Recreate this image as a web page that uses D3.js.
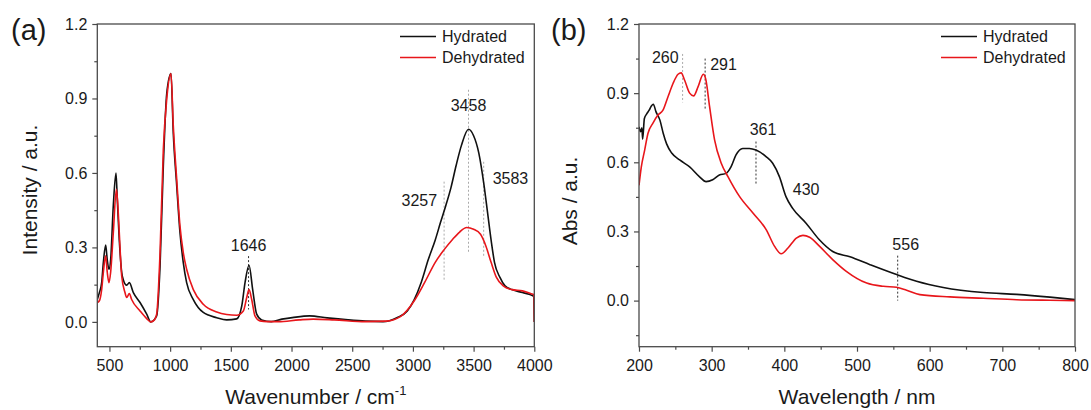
<!DOCTYPE html>
<html><head><meta charset="utf-8">
<script src="https://cdn.jsdelivr.net/npm/d3@7"></script>
<style>
body{margin:0;background:#fff}
svg text{font-family:Arial,"Liberation Sans",sans-serif;fill:#1a1a1a}
</style>
</head><body>
<svg id="chart" width="1091" height="410"></svg>
<script>
// ---------- Panel (a): FTIR ----------
const irHydrated = [[400,0.09],[417,0.118],[436,0.158],[450,0.24],[469,0.309],[482,0.25],[496,0.212],[510,0.25],[532,0.47],[554,0.60],[565,0.49],[581,0.33],[601,0.20],[614,0.17],[642,0.148],[664,0.158],[697,0.118],[752,0.078],[807,0.031],[840,0.0],[889,0.024],[917,0.225],[944,0.63],[972,0.92],[1007,1.0],[1026,0.76],[1054,0.55],[1081,0.36],[1108,0.24],[1136,0.158],[1191,0.09],[1273,0.038],[1384,0.017],[1466,0.008],[1548,0.012],[1590,0.064],[1617,0.158],[1650,0.228],[1680,0.13],[1713,0.031],[1754,0.008],[1833,0.001],[1920,0.011],[2006,0.017],[2149,0.024],[2293,0.016],[2466,0.008],[2609,0.003],[2753,0.001],[2868,0.017],[2954,0.044],[3011,0.09],[3069,0.16],[3126,0.25],[3184,0.33],[3227,0.40],[3270,0.467],[3313,0.54],[3356,0.63],[3399,0.71],[3458,0.776],[3500,0.75],[3543,0.68],[3586,0.55],[3615,0.44],[3644,0.33],[3672,0.24],[3716,0.18],[3759,0.145],[3816,0.13],[3902,0.118],[3989,0.105],[3996,0.1],[4000,0.0]];
const irDehydrated = [[400,0.078],[417,0.085],[436,0.13],[450,0.2],[469,0.266],[482,0.2],[496,0.158],[510,0.2],[532,0.36],[557,0.534],[568,0.48],[581,0.36],[601,0.185],[628,0.118],[642,0.098],[664,0.114],[683,0.09],[752,0.044],[807,0.013],[840,0.0],[871,0.008],[889,0.031],[917,0.28],[944,0.695],[972,0.897],[1007,1.0],[1026,0.79],[1054,0.575],[1081,0.387],[1108,0.28],[1136,0.212],[1191,0.13],[1273,0.071],[1384,0.04],[1466,0.03],[1548,0.027],[1603,0.044],[1631,0.098],[1650,0.13],[1672,0.09],[1699,0.024],[1740,0.004],[1800,0.001],[1891,0.001],[2063,0.008],[2178,0.011],[2351,0.008],[2609,0.001],[2782,0.003],[2897,0.021],[3011,0.085],[3098,0.16],[3184,0.24],[3256,0.29],[3328,0.333],[3385,0.362],[3443,0.38],[3500,0.373],[3557,0.353],[3601,0.306],[3644,0.24],[3687,0.18],[3744,0.145],[3816,0.13],[3902,0.125],[3989,0.111],[3996,0.11],[4000,0.0]];
const irXTicks = [500,1000,1500,2000,2500,3000,3500,4000];
const irXMinor = [750,1250,1750,2250,2750,3250,3750];
const irYTicks = [0.0,0.3,0.6,0.9,1.2];
const irYMinor = [0.15,0.45,0.75,1.05];
// annotations: [wavenumber, lineTop, lineBottom (data units), label, style]
const irMarks = [
  {x:1646, y0:0.265, y1:0.05, label:"1646", dark:true},
  {x:3458, y0:0.935, y1:0.28, label:"3458", dark:false},
  {x:3257, y0:0.565, y1:0.17, label:"3257", dark:false},
  {x:3583, y0:0.645, y1:0.265, label:"3583", dark:false}
];

// ---------- Panel (b): UV-vis ----------
const uvHydrated = [[200,0.754],[202,0.733],[204,0.75],[205,0.70],[207.4,0.79],[210.6,0.81],[214,0.826],[217,0.844],[219.7,0.852],[223.3,0.82],[228.8,0.783],[233.4,0.725],[238,0.68],[245,0.64],[256,0.61],[269.7,0.58],[283,0.538],[292.3,0.516],[301.4,0.524],[310.6,0.545],[319.8,0.552],[326.6,0.58],[333.5,0.632],[342.7,0.66],[351.9,0.66],[361,0.653],[374.8,0.625],[384,0.596],[393.2,0.538],[402.4,0.45],[411.5,0.40],[429.9,0.336],[448.2,0.264],[466.6,0.213],[490.3,0.19],[517.9,0.156],[554.5,0.113],[582,0.084],[618.7,0.057],[673.8,0.035],[719.7,0.027],[765.5,0.015],[800,0.004]];
const uvDehydrated = [[200,0.5],[203.2,0.58],[207.8,0.653],[212.3,0.725],[219.2,0.77],[226.1,0.805],[233,0.826],[239.9,0.884],[246.8,0.942],[253.7,0.982],[258,0.988],[262.8,0.956],[269.7,0.90],[275.2,0.888],[281.2,0.927],[288.5,0.982],[291.7,0.963],[297.2,0.84],[304,0.697],[313.2,0.596],[322.4,0.538],[338.5,0.451],[356.8,0.38],[375.2,0.307],[386.6,0.235],[395.8,0.203],[405,0.228],[416.5,0.271],[425.6,0.283],[434.8,0.275],[448.6,0.235],[466.9,0.177],[485.3,0.127],[513.3,0.076],[536.2,0.062],[554.5,0.058],[568.3,0.045],[586.6,0.026],[627.9,0.016],[673.8,0.01],[719.7,0.004],[765.5,0.0014],[800,0.0]];
const uvXTicks = [200,300,400,500,600,700,800];
const uvXMinor = [250,350,450,550,650,750];
const uvYTicks = [0.0,0.3,0.6,0.9,1.2];
const uvYMinor = [-0.15,0.15,0.45,0.75,1.05];
const uvMarks = [
  {x:260, y0:1.07, y1:0.86, label:"260", dark:false},
  {x:291, y0:1.05, y1:0.83, label:"291", dark:true},
  {x:361, y0:0.69, y1:0.50, label:"361", dark:true},
  {x:556, y0:0.195, y1:0.0, label:"556", dark:true}
];
const uvTextOnly = [{x:430, y:0.48, label:"430"}];

const seriesNames = ["Hydrated","Dehydrated"];
const seriesColors = ["#111111","#e8161b"];

const svg = d3.select("#chart");
const FRAME = "#4a4a4a";

function panel(opt){
  const g = svg.append("g");
  const x = d3.scaleLinear().domain(opt.xDomain).range([opt.left, opt.right]);
  const y = d3.scaleLinear().domain(opt.yDomain).range([opt.bottom, opt.top]);
  const clipId = "clip"+opt.id;
  svg.append("clipPath").attr("id",clipId).append("rect")
    .attr("x",opt.left).attr("y",opt.top).attr("width",opt.right-opt.left).attr("height",opt.bottom-opt.top);

  // axes
  const xa = g.append("g").attr("transform",`translate(0,${opt.bottom})`)
    .call(d3.axisBottom(x).tickValues(opt.xTicks).tickFormat(d3.format("d")).tickSize(5).tickSizeOuter(0).tickPadding(8));
  const xm = g.append("g").attr("transform",`translate(0,${opt.bottom})`)
    .call(d3.axisBottom(x).tickValues(opt.xMinor).tickFormat("").tickSize(3).tickSizeOuter(0));
  const ya = g.append("g").attr("transform",`translate(${opt.left},0)`)
    .call(d3.axisLeft(y).tickValues(opt.yTicks).tickFormat(d3.format(".1f")).tickSize(5).tickSizeOuter(0).tickPadding(5));
  const ym = g.append("g").attr("transform",`translate(${opt.left},0)`)
    .call(d3.axisLeft(y).tickValues(opt.yMinor).tickFormat("").tickSize(3).tickSizeOuter(0));
  [xa,xm,ya,ym].forEach(a=>{
    a.select(".domain").remove();
    a.selectAll("line").attr("stroke",FRAME).attr("stroke-width",1.2);
    a.selectAll("text").attr("font-size",16).attr("fill","#1a1a1a").attr("font-family","Arial, 'Liberation Sans', sans-serif");
  });

  // annotation dotted lines
  opt.marks.forEach(m=>{
    g.append("line").attr("x1",x(m.x)).attr("x2",x(m.x)).attr("y1",y(m.y0)).attr("y2",y(m.y1))
      .attr("stroke",m.dark?"#333":"#aaa").attr("stroke-width",1).attr("stroke-dasharray","2,2");
  });

  // curves
  const line = d3.line().x(d=>x(d[0])).y(d=>y(d[1])).curve(d3.curveMonotoneX);
  opt.series.forEach((s,i)=>{
    g.append("path").datum(s).attr("d",line).attr("fill","none")
      .attr("stroke",seriesColors[i]).attr("stroke-width",1.6).attr("stroke-linejoin","round")
      .attr("clip-path",`url(#${clipId})`);
  });
  // draw black on top? original draws red over black in places; keep order hydrated then dehydrated

  // frame
  g.append("rect").attr("x",opt.left).attr("y",opt.top).attr("width",opt.right-opt.left).attr("height",opt.bottom-opt.top)
    .attr("fill","none").attr("stroke",FRAME).attr("stroke-width",1.3);

  // legend
  seriesNames.forEach((n,i)=>{
    const ly = opt.top + 12.5 + i*21;
    g.append("line").attr("x1",opt.legX).attr("x2",opt.legX+36).attr("y1",ly).attr("y2",ly)
      .attr("stroke",seriesColors[i]).attr("stroke-width",1.6);
    g.append("text").attr("x",opt.legX+42).attr("y",ly+5.5).attr("font-size",16).text(n);
  });

  // panel letter
  g.append("text").attr("x",opt.letterX).attr("y",40).attr("font-size",29).text(opt.letter);

  return {g,x,y};
}

// Panel a
const A = panel({id:"a", left:97.3, right:534.3, top:24, bottom:346.7,
  xDomain:[400,4000], yDomain:[-0.1,1.2], xTicks:irXTicks, xMinor:irXMinor, yTicks:irYTicks, yMinor:irYMinor,
  series:[irHydrated, irDehydrated], marks:irMarks, legX:400, letter:"(a)", letterX:11});
// Panel b
const B = panel({id:"b", left:639, right:1075, top:24, bottom:346.7,
  xDomain:[200,800], yDomain:[-0.2,1.2], xTicks:uvXTicks, xMinor:uvXMinor, yTicks:uvYTicks, yMinor:uvYMinor,
  series:[uvHydrated, uvDehydrated], marks:uvMarks, legX:941, letter:"(b)", letterX:551});

// labels for panel a
const irLabelPos = [
  {label:"1646", x:1646, y:0.285, anchor:"middle", dx:0},
  {label:"3458", x:3458, y:0.85, anchor:"middle", dx:0},
  {label:"3257", x:3257, y:0.465, anchor:"end", dx:-7},
  {label:"3583", x:3583, y:0.555, anchor:"start", dx:9}
];
irLabelPos.forEach(l=>{
  A.g.append("text").attr("x",A.x(l.x)+l.dx).attr("y",A.y(l.y)).attr("text-anchor",l.anchor).attr("font-size",16).text(l.label);
});
const uvLabelPos = [
  {label:"260", x:260, y:1.03, anchor:"end", dx:-4},
  {label:"291", x:291, y:1.0, anchor:"start", dx:5},
  {label:"361", x:361, y:0.72, anchor:"middle", dx:7},
  {label:"430", x:430, y:0.46, anchor:"middle", dx:0},
  {label:"556", x:556, y:0.22, anchor:"middle", dx:8}
];
uvLabelPos.forEach(l=>{
  B.g.append("text").attr("x",B.x(l.x)+l.dx).attr("y",B.y(l.y)).attr("text-anchor",l.anchor).attr("font-size",16).text(l.label);
});

// axis titles
const tA = svg.append("text").attr("x",(97.3+534.3)/2).attr("y",404).attr("text-anchor","middle").attr("font-size",21);
tA.append("tspan").text("Wavenumber / cm");
tA.append("tspan").attr("font-size",13).attr("dy",-9).text("-1");
svg.append("text").attr("x",(639+1075)/2).attr("y",404).attr("text-anchor","middle").attr("font-size",21).text("Wavelength / nm");
svg.append("text").attr("transform","translate(37,190) rotate(-90)").attr("text-anchor","middle").attr("font-size",21).text("Intensity / a.u.");
svg.append("text").attr("transform","translate(577,201) rotate(-90)").attr("text-anchor","middle").attr("font-size",21).text("Abs / a.u.");
</script>
</body></html>
